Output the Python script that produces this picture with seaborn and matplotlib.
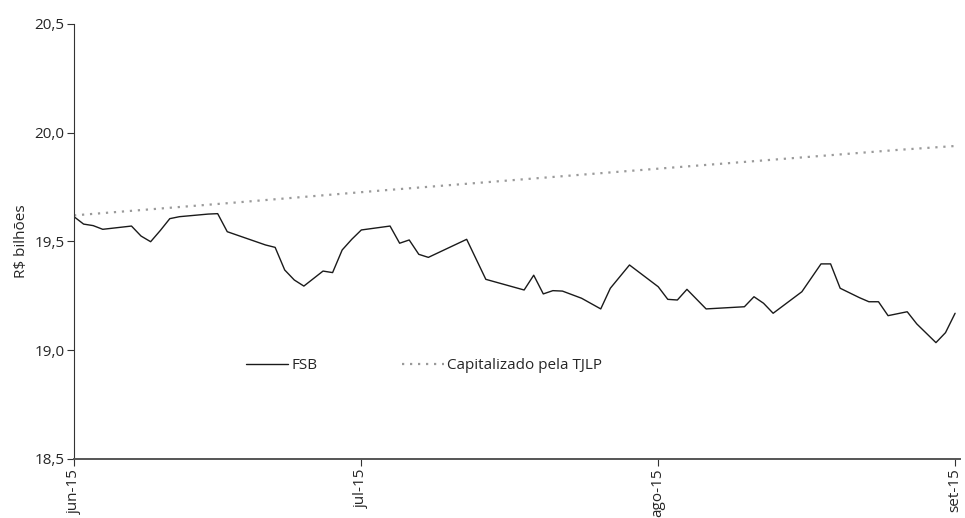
import pandas as pd
import numpy as np
import matplotlib
matplotlib.use('Agg')
import matplotlib.pyplot as plt
import matplotlib.dates as mdates
import seaborn as sns

# FSB series (R$ bi)
fsb_dates = ['2015-06-01', '2015-06-02', '2015-06-03', '2015-06-04', '2015-06-07',
             '2015-06-08', '2015-06-09', '2015-06-10', '2015-06-11', '2015-06-12',
             '2015-06-15', '2015-06-16', '2015-06-17', '2015-06-21', '2015-06-22',
             '2015-06-23', '2015-06-24', '2015-06-25', '2015-06-27', '2015-06-28',
             '2015-06-29', '2015-06-30', '2015-07-01', '2015-07-03', '2015-07-04',
             '2015-07-05', '2015-07-06', '2015-07-07', '2015-07-08', '2015-07-12',
             '2015-07-14', '2015-07-18', '2015-07-19', '2015-07-20', '2015-07-21',
             '2015-07-22', '2015-07-24', '2015-07-26', '2015-07-27', '2015-07-29',
             '2015-08-01', '2015-08-02', '2015-08-03', '2015-08-04', '2015-08-06',
             '2015-08-10', '2015-08-11', '2015-08-12', '2015-08-13', '2015-08-16',
             '2015-08-18', '2015-08-19', '2015-08-20', '2015-08-22', '2015-08-23',
             '2015-08-24', '2015-08-25', '2015-08-27', '2015-08-28', '2015-08-30',
             '2015-08-31', '2015-09-01']
fsb_values = [19.614, 19.580, 19.573, 19.556, 19.571,
              19.525, 19.499, 19.550, 19.605, 19.614,
              19.626, 19.628, 19.545, 19.484, 19.473,
              19.369, 19.323, 19.295, 19.364, 19.357,
              19.461, 19.510, 19.553, 19.565, 19.571,
              19.492, 19.507, 19.441, 19.427, 19.510,
              19.326, 19.277, 19.345, 19.259, 19.274,
              19.272, 19.239, 19.190, 19.285, 19.392,
              19.292, 19.234, 19.231, 19.280, 19.190,
              19.200, 19.246, 19.216, 19.170, 19.269,
              19.397, 19.397, 19.285, 19.242, 19.223,
              19.223, 19.159, 19.177, 19.121, 19.035,
              19.081, 19.170]

# Capitalizado pela TJLP
tjlp_dates = ['2015-06-01', '2015-06-17', '2015-07-03', '2015-07-28', '2015-08-26', '2015-09-01']
tjlp_values = [19.620, 19.676, 19.734, 19.821, 19.921, 19.939]

month_ticks = ['2015-06-01', '2015-07-01', '2015-08-01', '2015-09-01']
month_labels = ['jun-15', 'jul-15', 'ago-15', 'set-15']
y_ticks = [18.5, 19.0, 19.5, 20.0, 20.5]
y_labels = ['18,5', '19,0', '19,5', '20,0', '20,5']

fsb = pd.DataFrame({'data': pd.to_datetime(fsb_dates), 'valor': fsb_values})
tjlp = pd.DataFrame({'data': pd.to_datetime(tjlp_dates), 'valor': tjlp_values})

sns.set_theme(style='white')
plt.rcParams['font.family'] = ['Open Sans', 'DejaVu Sans']

fig = plt.figure(figsize=(9.65, 5.18), dpi=100)
ax = fig.add_axes([0.0767, 0.1139, 0.918, 0.8398])

sns.lineplot(data=fsb, x='data', y='valor', ax=ax, color='#1a1a1a', linewidth=1.0, label='FSB')
sns.lineplot(data=tjlp, x='data', y='valor', ax=ax, color='#9a9a9a', linewidth=1.6,
             linestyle=(0, (1, 2.6)), label='Capitalizado pela TJLP')

ax.set_ylim(18.5, 20.5)
ax.set_xlim(pd.Timestamp('2015-06-01'), pd.Timestamp('2015-09-01 12:00'))
ax.set_yticks(y_ticks)
ax.set_yticklabels(y_labels, fontsize=11)
ax.set_xticks(mdates.date2num(pd.to_datetime(month_ticks)))
ax.set_xticklabels(month_labels, rotation=90, fontsize=11)
ax.tick_params(axis='both', direction='out', length=5, width=0.8, color='#333333',
               left=True, bottom=True, pad=2)
ax.set_xlabel('')
ax.set_ylabel('R$ bilhões', fontsize=11, labelpad=4)

for side in ['top', 'right']:
    ax.spines[side].set_visible(False)
ax.spines['left'].set_color('#333333')
ax.spines['left'].set_linewidth(0.8)
ax.spines['bottom'].set_color('#555555')
ax.spines['bottom'].set_linewidth(1.4)

ax.legend(loc='center', bbox_to_anchor=(0.395, 0.214), ncol=2, frameon=False,
          fontsize=11, handlelength=2.8, columnspacing=5.5, handletextpad=0.2)

fig.savefig('out.png', dpi=100)
